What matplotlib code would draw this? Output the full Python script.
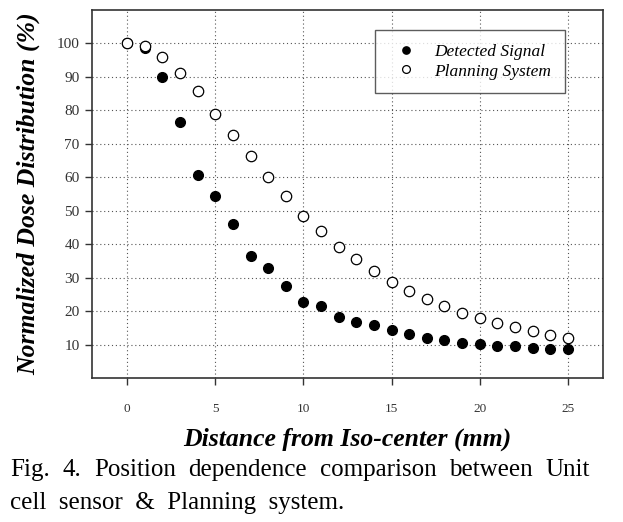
import matplotlib
matplotlib.use('Agg')
import matplotlib.pyplot as plt

dist = list(range(0, 26))
detected = [100, 98.5, 89.9, 76.5, 60.6, 54.4, 45.9, 36.4, 32.9, 27.4, 22.7, 21.6, 18.1,
            16.7, 15.7, 14.2, 13.3, 11.9, 11.3, 10.4, 10.3, 9.6, 9.5, 9.1, 8.6, 8.6]
planning = [100, 99.1, 96.0, 91.3, 85.8, 78.9, 72.5, 66.3, 60.0, 54.4, 48.5, 44.0, 39.3,
            35.5, 32.1, 28.6, 25.9, 23.7, 21.4, 19.5, 17.8, 16.4, 15.1, 13.9, 12.8, 11.9]
xticks = [0, 5, 10, 15, 20, 25]
yticks = [10, 20, 30, 40, 50, 60, 70, 80, 90, 100]
caption1 = "Fig. 4. Position dependence comparison between Unit"
caption2 = "cell sensor & Planning system."

serif = ['Liberation Serif', 'DejaVu Serif']

fig = plt.figure(figsize=(6.23, 5.22), dpi=100)
ax = fig.add_axes([92/623, 1-378/522, 511/623, 368/522])

ax.plot(dist, detected, 'o', color='black', ms=7, label='Detected Signal', zorder=3)
ax.plot(dist, planning, 'o', mfc='white', mec='black', mew=0.9, ms=7.5,
        label='Planning System', zorder=4)

ax.set_xlim(-2, 27)
ax.set_ylim(0, 110)
ax.set_xticks(xticks)
ax.set_yticks(yticks)
ax.grid(True, color='#555555', linestyle=(0, (1, 2.5)), linewidth=0.8)
ax.set_axisbelow(True)
ax.tick_params(direction='out', length=5, width=1, colors='#333333')
ax.tick_params(axis='y', labelsize=11, pad=4)
ax.tick_params(axis='x', labelsize=9.5, pad=13)
for lab in ax.get_xticklabels() + ax.get_yticklabels():
    lab.set_family(serif)
for s in ax.spines.values():
    s.set_color('#333333')
    s.set_linewidth(1.2)

ax.set_xlabel('Distance from Iso-center (mm)', family=serif, fontsize=18.5,
              fontweight='bold', style='italic', labelpad=9)
ax.set_ylabel('Normalized Dose Distribution (%)', family=serif, fontsize=18.5,
              fontweight='bold', style='italic', labelpad=12)

leg = ax.legend(loc='upper left', bbox_to_anchor=(0.554, 0.946), frameon=True,
                fancybox=False, edgecolor='#333333', markerscale=0.75,
                prop={'family': serif, 'style': 'italic', 'size': 12.5},
                borderpad=0.8, handletextpad=0.6, labelspacing=0.2, borderaxespad=0)
leg.get_frame().set_linewidth(1.0)

# justified first caption line
renderer = fig.canvas.get_renderer()
words = caption1.split(' ')
x0, x1 = 10/623, 590/623
ws = []
txts = []
for w in words:
    t = fig.text(0, 1-470/522, w, family=serif, fontsize=18, va='center', ha='left')
    bb = t.get_window_extent(renderer)
    ws.append(bb.width / 623)
    txts.append(t)
gap = (x1 - x0 - sum(ws)) / (len(words) - 1)
pos = x0
for t, w in zip(txts, ws):
    t.set_x(pos)
    pos += w + gap
fig.text(x0, 1-503/522, caption2.replace(' ', '  '), family=serif, fontsize=18,
         va='center', ha='left')

fig.savefig('out.png', dpi=100)
